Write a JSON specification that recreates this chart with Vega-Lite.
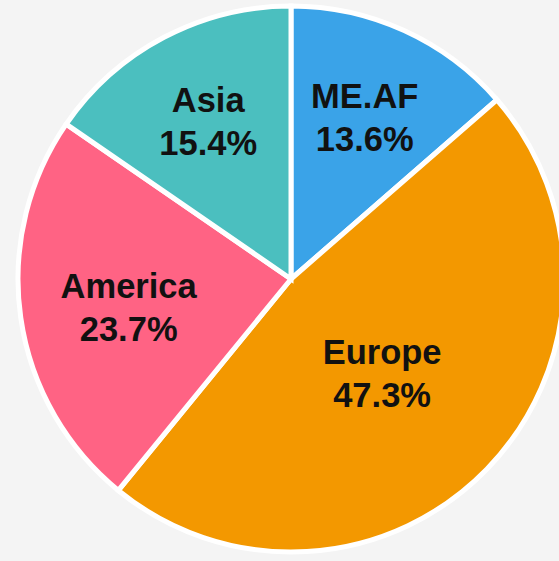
{
  "$schema": "https://vega.github.io/schema/vega-lite/v6.json",
  "width": 559,
  "height": 561,
  "autosize": {"type": "fit", "contains": "padding"},
  "padding": {"left": 23, "top": 0, "right": 0, "bottom": 3},
  "background": "#f4f4f4",
  "view": {"stroke": null},
  "data": {
    "values": [
      {"rank": 1, "name": "ME.AF", "pct": "13.6%", "value": 13.6},
      {"rank": 2, "name": "Europe", "pct": "47.3%", "value": 47.3},
      {"rank": 3, "name": "America", "pct": "23.7%", "value": 23.7},
      {"rank": 4, "name": "Asia", "pct": "15.4%", "value": 15.4}
    ]
  },
  "encoding": {
    "theta": {"field": "value", "type": "quantitative", "stack": true},
    "order": {"field": "rank", "type": "quantitative", "sort": "ascending"}
  },
  "layer": [
    {
      "mark": {"type": "arc", "outerRadius": 273, "stroke": "white", "strokeWidth": 5},
      "encoding": {
        "color": {
          "field": "name",
          "type": "nominal",
          "scale": {
            "domain": ["ME.AF", "Europe", "America", "Asia"],
            "range": ["#3AA3E8", "#F39800", "#FF6384", "#4BBFBF"]
          },
          "legend": null
        }
      }
    },
    {
      "mark": {"type": "text", "radius": 178, "dy": -19, "font": "Liberation Sans", "fontWeight": "bold", "fontSize": 34.5, "fill": "#111111"},
      "encoding": {
        "text": {"field": "name"},
        "opacity": {"condition": {"test": "datum.name === 'Asia' || datum.name === 'ME.AF'", "value": 1}, "value": 0}
      }
    },
    {
      "mark": {"type": "text", "radius": 178, "dy": 24, "font": "Liberation Sans", "fontWeight": "bold", "fontSize": 34.5, "fill": "#111111"},
      "encoding": {
        "text": {"field": "pct"},
        "opacity": {"condition": {"test": "datum.name === 'Asia' || datum.name === 'ME.AF'", "value": 1}, "value": 0}
      }
    },
    {
      "mark": {"type": "text", "radius": 164, "dy": -14, "font": "Liberation Sans", "fontWeight": "bold", "fontSize": 34.5, "fill": "#111111"},
      "encoding": {
        "text": {"field": "name"},
        "opacity": {"condition": {"test": "datum.name === 'America'", "value": 1}, "value": 0}
      }
    },
    {
      "mark": {"type": "text", "radius": 164, "dy": 29, "font": "Liberation Sans", "fontWeight": "bold", "fontSize": 34.5, "fill": "#111111"},
      "encoding": {
        "text": {"field": "pct"},
        "opacity": {"condition": {"test": "datum.name === 'America'", "value": 1}, "value": 0}
      }
    },
    {
      "mark": {"type": "text", "radius": 131, "dy": -16, "dx": -3, "font": "Liberation Sans", "fontWeight": "bold", "fontSize": 34.5, "fill": "#111111"},
      "encoding": {
        "text": {"field": "name"},
        "opacity": {"condition": {"test": "datum.name === 'Europe'", "value": 1}, "value": 0}
      }
    },
    {
      "mark": {"type": "text", "radius": 131, "dy": 27, "dx": -3, "font": "Liberation Sans", "fontWeight": "bold", "fontSize": 34.5, "fill": "#111111"},
      "encoding": {
        "text": {"field": "pct"},
        "opacity": {"condition": {"test": "datum.name === 'Europe'", "value": 1}, "value": 0}
      }
    }
  ]
}
